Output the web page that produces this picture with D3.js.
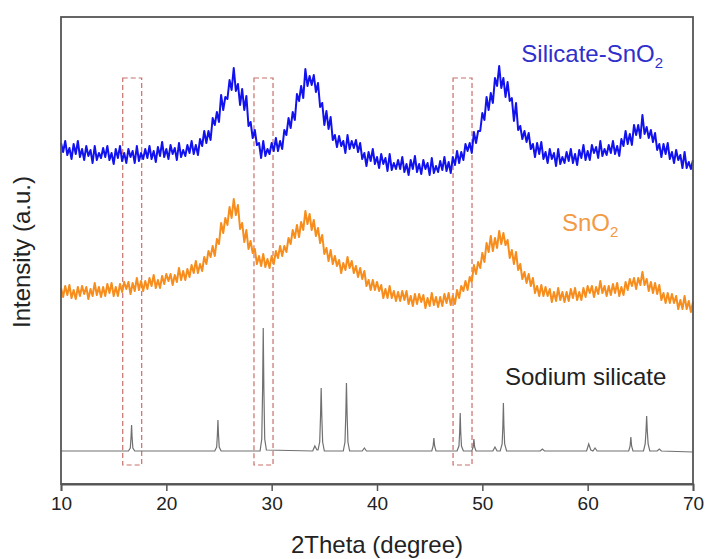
<!DOCTYPE html>
<html><head><meta charset="utf-8">
<script src="https://cdn.jsdelivr.net/npm/d3@7"></script>
<style>html,body{margin:0;padding:0;background:#fff;}svg{display:block;font-family:"Liberation Sans",Arial,sans-serif;}</style>
</head><body>
<svg id="chart" width="707" height="559"></svg>
<script>
// ---- data (intensity in a.u., curves stacked as in the figure) ----
const xStart = 10, xStep = 0.2;
const silicateSnO2 = [
341,332,343,329,336,325,340,330,343,327, 335,324,338,328,334,321,338,324,331,326,
336,327,338,324,331,320,335,326,338,323, 331,321,335,327,333,321,338,323,331,325,
335,326,338,325,333,322,337,328,342,327, 335,325,339,330,336,324,341,327,334,328,
339,331,343,330,339,329,345,338,353,341, 353,344,366,359,372,362,389,374,387,385,
404,394,416,393,400,379,395,374,388,358, 362,346,354,339,341,326,343,328,335,330,
341,333,346,333,343,335,354,349,366,356, 372,364,390,383,398,386,415,398,408,399,
409,392,401,377,381,359,373,355,367,344, 349,337,348,338,343,331,349,335,343,336,
344,332,341,325,331,318,332,323,335,320, 327,316,330,320,326,313,330,314,321,315,
324,315,327,312,320,309,324,315,328,312, 320,310,324,315,321,309,326,311,318,312,
323,314,327,313,322,311,327,319,333,321, 332,324,340,333,341,331,352,341,353,353,
371,364,387,374,391,381,406,398,418,396, 406,387,402,383,386,363,381,354,358,345,
353,342,351,335,340,327,341,330,342,325, 332,321,335,325,331,318,335,320,327,321,
332,323,335,321,330,319,334,326,339,324, 333,324,339,331,337,326,343,328,335,329,
339,331,343,330,338,328,345,338,353,340, 350,339,359,349,359,346,369,350,357,346,
354,342,351,334,340,327,340,330,341,325, 332,321,334,324,329,316,332,316,322,315,
324];
const snO2 = [
196,187,198,189,199,186,194,185,197,188, 198,190,197,185,195,188,201,189,197,187,
197,188,200,191,201,188,197,188,200,192, 202,195,202,190,201,193,206,194,203,193,
203,195,206,198,209,196,204,196,208,200, 210,203,210,199,209,202,216,204,213,204,
215,207,219,211,223,211,220,213,227,220, 233,227,238,228,245,240,261,251,266,259,
277,266,285,269,279,255,261,242,254,235, 243,231,235,220,228,218,230,217,225,216,
228,220,233,226,238,228,238,232,246,240, 254,246,259,247,262,254,273,260,270,254,
264,248,256,241,249,230,236,223,234,220, 228,218,224,211,221,214,227,216,223,211,
218,207,216,205,213,198,204,194,204,194, 202,193,199,186,195,186,198,186,193,183,
192,183,193,184,193,180,188,178,190,180, 190,182,189,176,186,178,191,179,187,177,
187,178,190,181,191,179,188,180,194,186, 198,193,203,194,207,202,219,210,222,216,
231,222,241,232,248,233,246,236,253,240, 251,239,244,226,234,220,232,214,220,205,
212,201,210,198,206,191,198,188,199,188, 197,188,195,182,192,183,196,184,192,182,
192,183,195,186,196,184,192,184,196,187, 198,191,198,187,197,190,203,191,198,188,
198,189,200,191,201,188,197,189,202,194, 205,198,206,195,206,199,212,199,205,193,
202,191,201,190,199,184,191,181,191,181, 190,181,188,175,184,175,188,175,183,172,
182];
const sodiumSilicate = [
[10,33],[16.4,33],[16.58,36],[16.65,47],[16.7,59],[16.75,47],[16.82,36],[17.0,33],
[24.6,33],[24.78,37],[24.85,50],[24.9,64],[24.95,50],[25.02,37],[25.2,33],
[28.9,33],[29.06,45],[29.14,95],[29.2,156],[29.26,95],[29.34,45],[29.5,34],
[33.9,33],[34.1,38],[34.3,34],[34.4,34],[34.56,42],[34.64,68],[34.7,96],[34.76,68],[34.84,42],[35.0,33],
[36.8,33],[36.96,42],[37.04,70],[37.1,101],[37.16,70],[37.24,42],[37.4,33],
[38.6,33],[38.8,36],[39.0,33],
[45.2,33],[45.33,38],[45.4,46],[45.47,38],[45.6,33],
[47.6,33],[47.78,38],[47.85,52],[47.9,71],[47.95,52],[48.02,38],[48.2,33],
[49.0,33],[49.13,37],[49.2,45],[49.27,37],[49.4,33],
[51.0,33],[51.2,37],[51.4,33],
[51.7,33],[51.88,40],[51.95,58],[52.0,81],[52.05,58],[52.12,40],[52.3,33],
[55.5,33],[55.7,35],[55.9,33],
[59.9,33],[60.1,40],[60.3,34],[60.5,33],[60.7,36],[60.9,33],
[63.9,33],[64.03,38],[64.1,47],[64.17,38],[64.3,33],
[65.3,33],[65.46,40],[65.54,53],[65.6,68],[65.66,53],[65.74,40],[65.9,33],
[66.6,33],[66.8,35],[67.0,33],[70,32]
];
const xTicks = [10, 20, 30, 40, 50, 60, 70];
const boxStart = [15.86, 28.32, 47.22];
const boxEnd   = [17.66, 30.13, 49.02];
const boxTop = 406, boxBottom = 19;
const seriesNames = ["Silicate-SnO", "SnO", "Sodium silicate"];
const seriesSub   = ["2", "2", ""];
const labelAt = [[53.7, 422], [57.56, 253], [52.15, 99]]; // [2theta, intensity] anchor of label
const xTitle = "2Theta (degree)", yTitle = "Intensity (a.u.)";

// ---- layout ----
const W = 707, H = 559;
const m = {left: 61, right: 14, top: 17, bottom: 75};
const svg = d3.select("#chart");
const x = d3.scaleLinear().domain([10, 70]).range([m.left, W - m.right]);
const y = d3.scaleLinear().domain([0, 467]).range([H - m.bottom, m.top]);

const colors = ["#1212ee", "#f68d1c", "#707070"];
const labelColors = ["#2f2fcc", "#f29a44", "#222"];

// dashed boxes
svg.append("g").selectAll("rect").data(boxStart).join("rect")
  .attr("x", (d) => x(d)).attr("width", (d, i) => x(boxEnd[i]) - x(d))
  .attr("y", y(boxTop)).attr("height", y(boxBottom) - y(boxTop))
  .attr("fill", "none").attr("stroke", "#c0605a").attr("stroke-width", 1.2)
  .attr("stroke-dasharray", "5,3").attr("opacity", 0.9);

const line = d3.line().x(d => x(d[0])).y(d => y(d[1]));
const toPts = arr => arr.map((v, i) => [xStart + i * xStep, v]);

svg.append("path").datum(sodiumSilicate).attr("d", line)
  .attr("fill", "none").attr("stroke", colors[2]).attr("stroke-width", 1.2);
svg.append("path").datum(toPts(snO2)).attr("d", line)
  .attr("fill", "none").attr("stroke", colors[1]).attr("stroke-width", 2)
  .attr("stroke-linejoin", "round");
svg.append("path").datum(toPts(silicateSnO2)).attr("d", line)
  .attr("fill", "none").attr("stroke", colors[0]).attr("stroke-width", 2)
  .attr("stroke-linejoin", "round");

// labels
seriesNames.forEach((name, i) => {
  const t = svg.append("text").attr("x", x(labelAt[i][0])).attr("y", y(labelAt[i][1]))
    .attr("fill", labelColors[i]).attr("font-size", 24);
  t.append("tspan").text(name);
  if (seriesSub[i]) t.append("tspan").attr("font-size", 15).attr("dy", 6).text(seriesSub[i]);
});

// frame
svg.append("rect").attr("x", m.left).attr("y", m.top)
  .attr("width", W - m.left - m.right).attr("height", H - m.top - m.bottom)
  .attr("fill", "none").attr("stroke", "#555").attr("stroke-width", 1.8);

// x axis
const gx = svg.append("g").attr("transform", `translate(0,${H - m.bottom})`)
  .call(d3.axisBottom(x).tickValues(xTicks).tickSize(7).tickPadding(6).tickFormat(d3.format("d")));
gx.select(".domain").attr("stroke", "#555").attr("stroke-width", 1.8);
gx.selectAll(".tick line").attr("stroke", "#555").attr("stroke-width", 1.5);
gx.selectAll(".tick text").attr("font-size", 19).attr("fill", "#222")
  .attr("font-family", '"Liberation Sans",Arial,sans-serif');

svg.append("text").attr("x", (m.left + W - m.right) / 2).attr("y", 553)
  .attr("text-anchor", "middle").attr("font-size", 24).attr("fill", "#222").text(xTitle);
svg.append("text").attr("transform", `translate(30,252) rotate(-90)`)
  .attr("text-anchor", "middle").attr("font-size", 24).attr("fill", "#222").text(yTitle);
</script>
</body></html>
